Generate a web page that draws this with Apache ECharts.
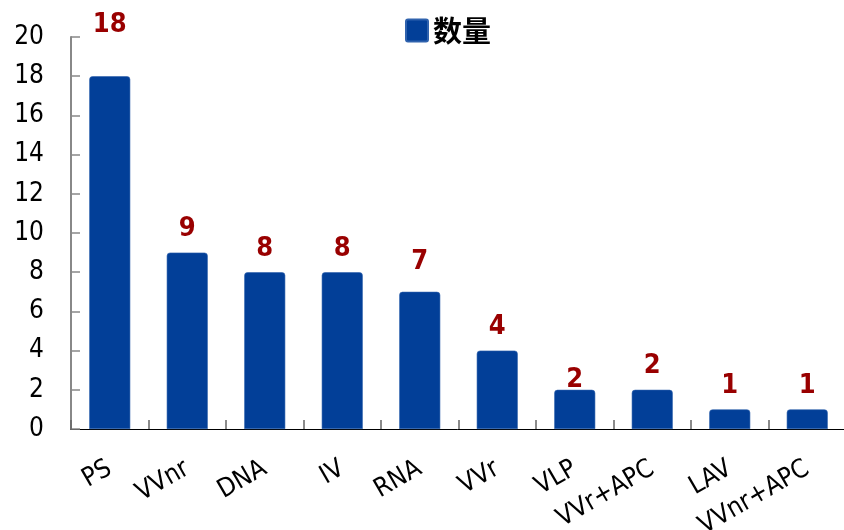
<!DOCTYPE html>
<html>
<head>
<meta charset="utf-8">
<script src="https://cdn.jsdelivr.net/npm/echarts@6/dist/echarts.min.js"></script>
<style>
  html, body { margin: 0; padding: 0; background: #fff; }
  #chart { width: 844px; height: 530px; }
</style>
</head>
<body>
<div id="chart"></div>
<script>
// Vaccine platform categories and their counts
const categories = ['PS', 'VVnr', 'DNA', 'IV', 'RNA', 'VVr', 'VLP', 'VVr+APC', 'LAV', 'VVnr+APC'];
const counts = [18, 9, 8, 8, 7, 4, 2, 2, 1, 1];
const seriesName = '数量';
const yTicks = { min: 0, max: 20, step: 2 };

// distance (px) between each value label and its bar top
const labelGap = [38, 10, 10, 10, 16, 10, -4, 10, 10, 10];

const FONT = "'DejaVu Sans Condensed', 'DejaVu Sans', sans-serif";
const BAR = '#023F98';

const chart = echarts.init(document.getElementById('chart'), null, { renderer: 'canvas' });

chart.setOption({
  animation: false,
  backgroundColor: '#ffffff',
  legend: {
    data: [seriesName],
    left: 400,
    top: 11,
    itemWidth: 22,
    itemHeight: 22,
    itemGap: 6,
    icon: 'path://M2,0 L20,0 Q22,0 22,2 L22,20 Q22,22 20,22 L2,22 Q0,22 0,20 L0,2 Q0,0 2,0 Z',
    textStyle: {
      fontFamily: "'Noto Sans CJK SC', sans-serif",
      fontWeight: 'bold',
      fontSize: 29,
      color: '#000'
    }
  },
  grid: { left: 71, top: 37, width: 775, bottom: 101, containLabel: false, outerBoundsMode: 'none' },
  xAxis: {
    type: 'category',
    data: categories,
    axisLine: { lineStyle: { color: '#000', width: 1 } },
    axisTick: { show: true, inside: true, length: 9, lineStyle: { color: '#666', width: 1.5 } },
    axisLabel: {
      rotate: 30,
      margin: 38,
      interval: 0,
      fontFamily: FONT,
      fontSize: 26,
      color: '#000'
    }
  },
  yAxis: {
    type: 'value',
    min: yTicks.min,
    max: yTicks.max,
    interval: yTicks.step,
    splitLine: { show: false },
    axisLine: { show: true, lineStyle: { color: '#888', width: 2 } },
    axisTick: { show: true, inside: true, length: 9, lineStyle: { color: '#888', width: 1.5 } },
    axisLabel: {
      margin: 27,
      fontFamily: FONT,
      fontSize: 26,
      color: '#000'
    }
  },
  series: [{
    name: seriesName,
    type: 'bar',
    barWidth: 41,
    itemStyle: { color: BAR, borderRadius: [3, 3, 0, 0], borderColor: '#2f62ad', borderWidth: 0.6 },
    label: {
      show: true,
      position: 'top',
      fontFamily: FONT,
      fontWeight: 'bold',
      fontSize: 27,
      color: '#990000'
    },
    data: counts.map((v, i) => ({ value: v, label: { distance: labelGap[i] } }))
  }]
});
</script>
</body>
</html>
